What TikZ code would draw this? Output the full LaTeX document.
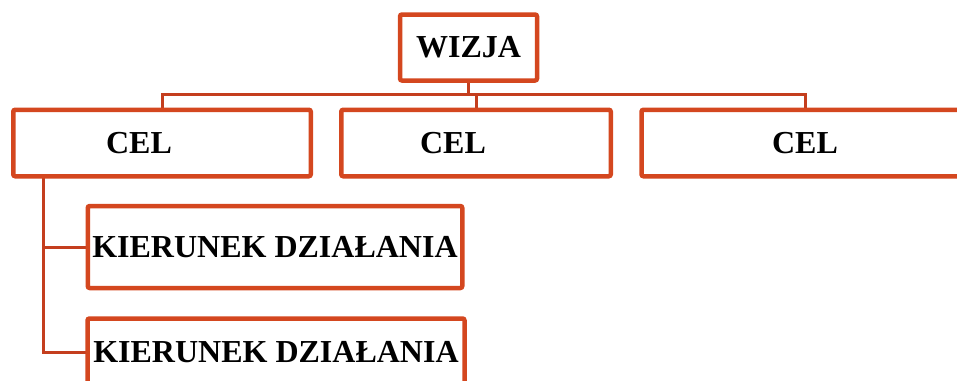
\documentclass[tikz,border=0pt]{standalone}
\usepackage{fontspec}
\setmainfont{Liberation Serif}
\usetikzlibrary{backgrounds}
\definecolor{boxred}{HTML}{D4471F}
\definecolor{linered}{HTML}{C43E1E}
\begin{document}
\begin{tikzpicture}[x=1pt,y=-1pt,
  box/.style={draw=boxred, line width=4.5pt, rounded corners=2pt, fill=white,
    inner sep=0pt, outer sep=0pt, font=\fontsize{32}{36}\selectfont\bfseries},
  conn/.style={draw=linered, line width=3pt}]
\useasboundingbox (0,0) rectangle (957,380);
\node[box, minimum width=137pt, minimum height=66pt] (w) at (468.5,47.5) {WIZJA};
\node[box, minimum width=297.5pt, minimum height=66.5pt] (c1) at (162,143) {CEL\kern46pt};
\node[box, minimum width=269.5pt, minimum height=66.5pt] (c2) at (476,143) {CEL\kern46pt};
\node[box, minimum width=327pt, minimum height=66.5pt] (c3) at (805,143) {CEL};
\node[box, minimum width=374.5pt, minimum height=82pt] (k1) at (275,247) {KIERUNEK DZIAŁANIA};
\node[box, minimum width=377pt, minimum height=67pt] (k2) at (276,352) {KIERUNEK DZIAŁANIA};
\begin{scope}[on background layer]
\coordinate (bus) at (0,94);
\coordinate (tr) at (43,176);
\draw[conn] (w.south) -- (w.south |- bus);
\draw[conn] (c1.north) |- (bus -| c3.north) -- (c3.north);
\draw[conn] (c2.north |- bus) -- (c2.north);
\draw[conn] (tr) |- (k2.west);
\draw[conn] (tr |- k1.west) -- (k1.west);
\end{scope}
\end{tikzpicture}
\end{document}
